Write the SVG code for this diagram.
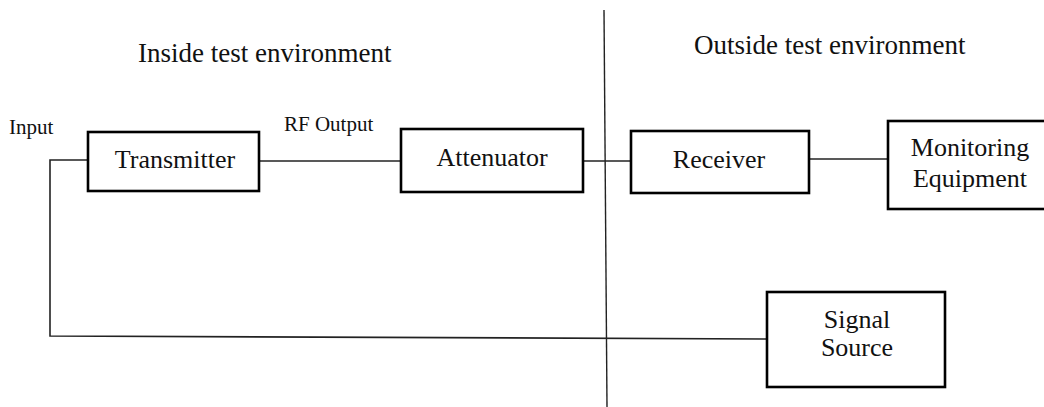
<svg xmlns="http://www.w3.org/2000/svg" width="1044" height="407" viewBox="0 0 1044 407" font-family="'Liberation Serif', 'Times New Roman', serif">
<style>
text{font-family:'Liberation Serif','Times New Roman',serif;fill:#111}
.box{fill:#fff;stroke:#000;stroke-width:2.6}
.lbl{font-size:26px;text-anchor:middle}
.sm{font-size:21px}
.ttl{font-size:27px}
.ln{stroke:#222;stroke-width:1.6;fill:none}
</style>
<rect width="1044" height="407" fill="#fff"/>
<text class="ttl" x="138" y="62" font-family="Liberation Serif, serif">Inside test environment</text>
<text class="ttl" x="694" y="54" font-family="Liberation Serif, serif">Outside test environment</text>
<text class="sm" x="9" y="134" font-family="Liberation Serif, serif">Input</text>
<text class="sm" x="284" y="131" font-family="Liberation Serif, serif">RF Output</text>
<g id="connectors">
<line class="ln" x1="604" y1="10" x2="607" y2="407" style="stroke-width:1.4"/>
<polyline class="ln" points="88,160 50,160 50,336 767,339"/>
<line class="ln" x1="259" y1="161" x2="401" y2="161"/>
<line class="ln" x1="583" y1="161" x2="631" y2="161"/>
<line class="ln" x1="809" y1="159" x2="888" y2="159"/>
</g>
<g id="transmitter">
<rect class="box" x="88" y="132" width="171" height="59"/>
<text class="lbl" x="175" y="168" font-family="Liberation Serif, serif">Transmitter</text>
</g>
<g id="attenuator">
<rect class="box" x="401" y="129" width="182" height="63"/>
<text class="lbl" x="492" y="166" font-family="Liberation Serif, serif">Attenuator</text>
</g>
<g id="receiver">
<rect class="box" x="631" y="131" width="178" height="62"/>
<text class="lbl" x="719" y="168" font-family="Liberation Serif, serif">Receiver</text>
</g>
<g id="monitoring">
<rect class="box" x="888" y="121" width="160" height="88"/>
<text class="lbl" x="970" y="156" font-family="Liberation Serif, serif">Monitoring</text>
<text class="lbl" x="970" y="187" font-family="Liberation Serif, serif">Equipment</text>
</g>
<g id="signal-source">
<rect class="box" x="767" y="292" width="178" height="95"/>
<text class="lbl" x="857" y="328" font-family="Liberation Serif, serif">Signal</text>
<text class="lbl" x="857" y="356" font-family="Liberation Serif, serif">Source</text>
</g>
</svg>
